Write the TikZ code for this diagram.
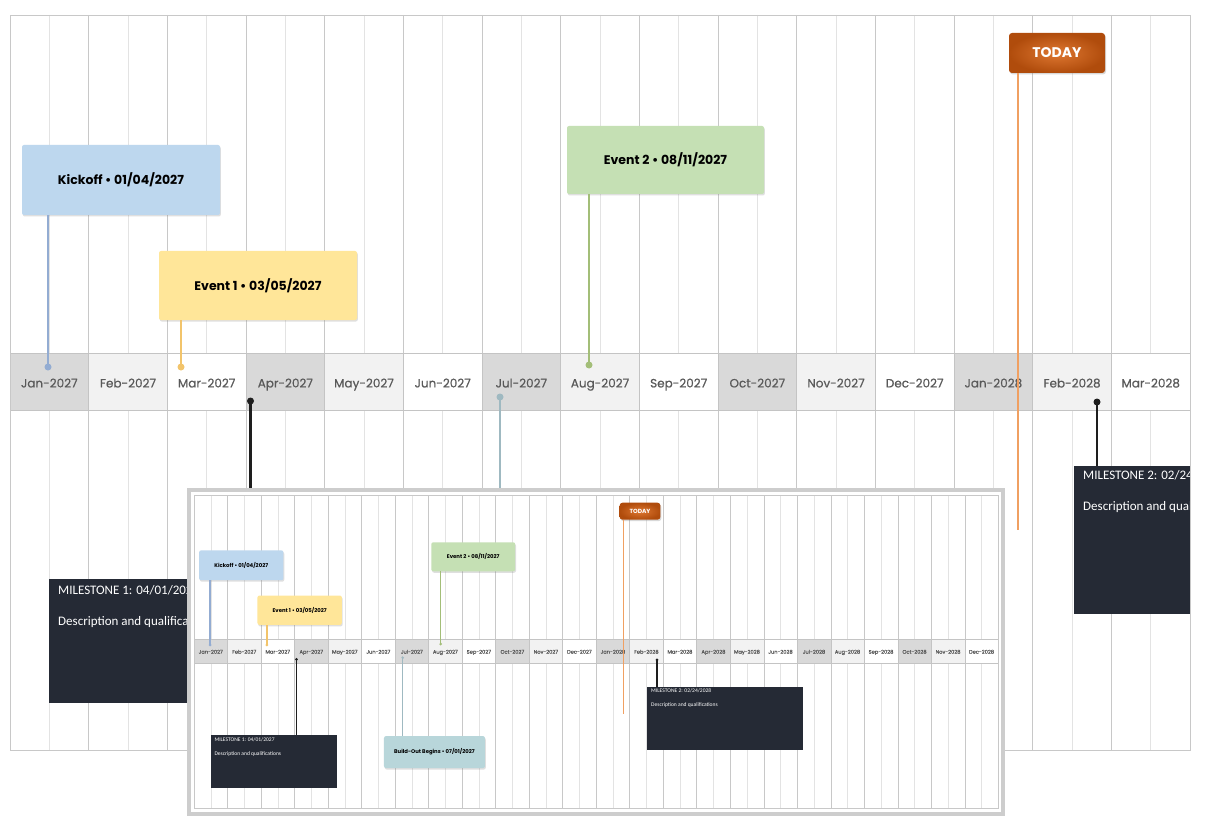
\documentclass[tikz,border=0pt]{standalone}
\usepackage{fontspec}
\setmainfont{Poppins}
\newfontfamily\carl{Carlito}
\newfontfamily\popmed{Poppins}[FakeBold=0.6]
\usetikzlibrary{shadows}
\definecolor{gridA}{HTML}{C8C8C8}
\definecolor{gridB}{HTML}{E3E3E3}
\definecolor{cell0}{HTML}{D9D9D9}
\definecolor{cell1}{HTML}{F2F2F2}
\definecolor{cell2}{HTML}{FFFFFF}
\definecolor{cellline}{HTML}{C4C4C4}
\definecolor{labelc}{HTML}{595959}
\definecolor{kickc}{HTML}{BDD7EE}
\definecolor{kickl}{HTML}{93ACD2}
\definecolor{evonec}{HTML}{FFE699}
\definecolor{evonel}{HTML}{F2C46B}
\definecolor{evtwoc}{HTML}{C5E0B4}
\definecolor{evtwol}{HTML}{A3BE78}
\definecolor{buildc}{HTML}{B8D6DA}
\definecolor{buildl}{HTML}{9FB9C1}
\definecolor{msc}{HTML}{252A35}
\definecolor{msline}{HTML}{1E1E1E}
\definecolor{todayd}{HTML}{B04C0C}
\definecolor{todayl}{HTML}{DE7731}
\definecolor{todayline}{HTML}{F0A062}
\definecolor{insetframe}{HTML}{CDCDCD}
\def\cw{78.67}
\def\lws{1}
\def\sws{1}
\tikzset{
  gridmaj/.style={draw=gridA, line width=0.9pt*\lws},
  gridmin/.style={draw=gridB, line width=0.7pt*\lws},
  cell/.style={draw=cellline, line width=0.9pt*\lws, minimum width=\cw pt, minimum height=57pt, inner sep=0pt, text=labelc, font=\popmed\fontsize{12}{14}\selectfont},
  evbox/.style={rounded corners=2pt, inner sep=0pt, font=\bfseries\fontsize{12.5}{15}\selectfont, text=black, drop shadow={opacity=0.25, shadow xshift=0.8pt, shadow yshift=-1.5pt}},
  msbox/.style={fill=msc, inner sep=0pt, anchor=north west},
  mstext/.style={anchor=west, inner sep=0pt, text=white, font=\carl\fontsize{13}{15}\selectfont},
  stem/.style={line width=2.4pt*\sws},
  msstem/.style={line width=2.8pt*\sws, draw=msline},
  dot/.style={circle, inner sep=0pt, minimum size=7pt},
  todaybox/.style={rounded corners=3pt, inner color=todayl, outer color=todayd, minimum width=96pt, minimum height=40pt, inner sep=0pt, text=white, font=\bfseries\fontsize{14}{16}\selectfont, drop shadow={opacity=0.3, shadow xshift=1pt, shadow yshift=-1.5pt}},
  todaystem/.style={line width=2.2pt*\sws, draw=todayline},
}
\newcommand\chartbody[1]{%
  \foreach \i in {1,...,#1} {
    \draw[gridmin] ({(\i-0.5)*\cw},0) -- ({(\i-0.5)*\cw},735);
    \draw[gridmaj] ({\i*\cw},0) -- ({\i*\cw},735);
  }
  \foreach \i/\mn/\yr in {1/Jan/2027,2/Feb/2027,3/Mar/2027,4/Apr/2027,5/May/2027,6/Jun/2027,7/Jul/2027,8/Aug/2027,9/Sep/2027,10/Oct/2027,11/Nov/2027,12/Dec/2027,13/Jan/2028,14/Feb/2028,15/Mar/2028,16/Apr/2028,17/May/2028,18/Jun/2028,19/Jul/2028,20/Aug/2028,21/Sep/2028,22/Oct/2028,23/Nov/2028,24/Dec/2028} {
    \ifnum\i>#1\relax\else
    \pgfmathtruncatemacro\k{mod(\i-1,3)}
    \node[cell, fill=cell\k, text depth=0pt] (m\i) at ({(\i-0.5)*\cw},366.5) {\raisebox{-3pt}{\mn-\yr}};
    \fi
  }
  % event boxes
  \node[evbox, fill=kickc, minimum width=198pt, minimum height=70pt] (kick) at (111,165) {Kickoff • 01/04/2027};
  \node[evbox, fill=evonec, minimum width=198pt, minimum height=69pt] (evone) at (248,270.5) {Event 1 • 03/05/2027};
  \node[evbox, fill=evtwoc, minimum width=197pt, minimum height=68pt] (evtwo) at (655.5,145) {Event 2 • 08/11/2027};
  \node[evbox, fill=buildc, minimum width=237pt, minimum height=75pt] (build) at (564.5,603.5) {Build-Out Begins • 07/01/2027};
  % milestones
  \node[msbox, minimum width=297pt, minimum height=124pt] (msone) at (39,564) {};
  \node[mstext] (msonea) at (48,575) {MILESTONE 1: 04/01/2027};
  \node[mstext] (msoneb) at (48,607) {Description and qualifications};
  \node[msbox, minimum width=366pt, minimum height=148pt] (mstwo) at (1064,451) {};
  \node[mstext] (mstwoa) at (1073,460) {MILESTONE 2: 02/24/2028};
  \node[mstext] (mstwob) at (1073,492) {Description and qualifications};
  % dots
  \node[dot, fill=kickl] (kdot) at (38,352) {};
  \node[dot, fill=evonel] (eonedot) at (171,352) {};
  \node[dot, fill=evtwol] (etwodot) at (579,350) {};
  \node[dot, fill=msline] (aprdot) at (240.5,386) {};
  \node[dot, fill=buildl] (juldot) at (490,382) {};
  \node[dot, fill=msline] (febdot) at (1087,387) {};
  % stems
  \draw[stem, kickl] (kdot.center) -- (kdot.center |- kick.south);
  \draw[stem, evonel] (eonedot.center) -- (eonedot.center |- evone.south);
  \draw[stem, evtwol] (etwodot.center) -- (etwodot.center |- evtwo.south);
  \draw[stem, buildl] (juldot.center) -- (juldot.center |- build.north);
  \draw[msstem] (aprdot.center) -- (aprdot.center |- msone.north);
  \draw[msstem] (febdot.center) -- (febdot.center |- mstwo.north);
  % today
  \node[todaybox] (today) at (1047,38) {TODAY};
  \coordinate (tend) at (1008,515);
  \draw[todaystem] (today.south -| tend) -- (tend);
}
\begin{document}
\begin{tikzpicture}[x=1pt,y=-1pt]
\useasboundingbox (0,0) rectangle (1205,821);
\fill[white] (0,0) rectangle (1205,821);
% big chart
\begin{scope}[shift={(10,15)}, name prefix=big-]
  \begin{scope}
    \clip (0,0) rectangle ({15*\cw},735);
    \chartbody{15}
  \end{scope}
  \draw[gridmaj] (0,0) rectangle ({15*\cw},735);
\end{scope}
% inset
\fill[white] (187,488) rectangle (1005,816);
\draw[insetframe, line width=4pt] (189,490) rectangle (1003,814);
\begin{scope}[shift={(194,495)}, scale=0.426, transform shape, name prefix=in-]
  \def\lws{0.5}
  \def\sws{0.6}
  \chartbody{24}
  \draw[gridmaj] (0,0) rectangle ({24*\cw},735);
\end{scope}
\end{tikzpicture}
\end{document}
